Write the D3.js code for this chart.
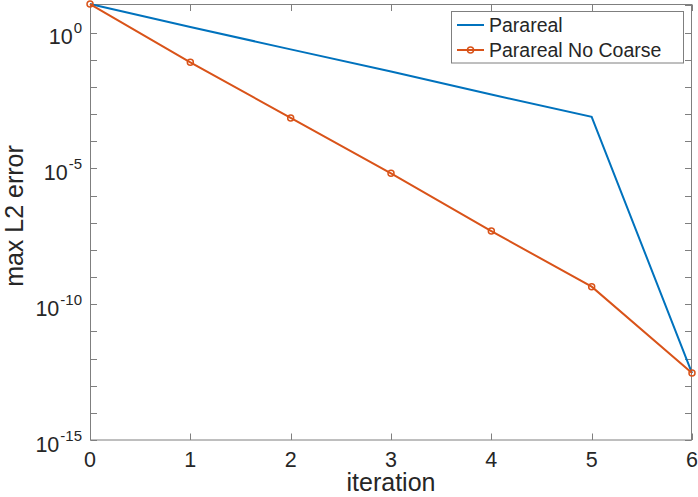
<!DOCTYPE html>
<html>
<head>
<meta charset="utf-8">
<script src="https://cdn.jsdelivr.net/npm/d3@7"></script>
<style>
  body { margin: 0; background: #fff; }
  svg text { font-family: "Liberation Sans", Arial, Helvetica, sans-serif; fill: #262626; }
</style>
</head>
<body>
<svg id="chart" width="698" height="497"></svg>
<script>
// data
var iterations = [0, 1, 2, 3, 4, 5, 6];
var parareal = [11.2, 1.6, 0.24, 0.037, 0.0052, 0.00079, 2.9e-13];
var pararealNoCoarse = [11.2, 0.08, 0.00072, 6.6e-6, 4.9e-8, 4.4e-10, 2.9e-13];
var seriesNames = ['Parareal', 'Parareal No Coarse'];
var yTickValues = d3.range(-15, 2).map(function(e) { return Math.pow(10, e); });
var yLabelExps = [0, -5, -10, -15];

var colors = ['#0072BD', '#D95319'];

var svg = d3.select('svg#chart');

var x = d3.scaleLinear().domain([0, 6]).range([90, 692]);
var y = d3.scaleLog().domain([1e-15, Math.pow(10, 1.05)]).range([440, 4]);

var axisColor = '#7f7f7f';

// box
svg.append('rect')
	.attr('x', 90.5).attr('y', 4.5)
	.attr('width', 601).attr('height', 435.5)
	.attr('fill', 'none')
	.attr('stroke', axisColor)
	.attr('stroke-width', 1);

// ticks, all inward
var tickLen = 6.5;
var ticks = svg.append('g').attr('stroke', axisColor).attr('stroke-width', 1);

iterations.forEach(function(i) {
	var px = Math.round(x(i)) + 0.5;
	ticks.append('line').attr('x1', px).attr('x2', px).attr('y1', 440).attr('y2', 440 - tickLen);
	ticks.append('line').attr('x1', px).attr('x2', px).attr('y1', 4.5).attr('y2', 4.5 + tickLen);
});

yTickValues.forEach(function(v) {
	var py = Math.round(y(v)) + 0.5;
	if (py < 4) return;
	ticks.append('line').attr('x1', 90.5).attr('x2', 90.5 + tickLen).attr('y1', py).attr('y2', py);
	ticks.append('line').attr('x1', 691.5).attr('x2', 691.5 - tickLen).attr('y1', py).attr('y2', py);
});

// x tick labels
svg.append('g').selectAll('text')
	.data(iterations)
	.enter()
		.append('text')
		.attr('x', function(d) { return x(d); })
		.attr('y', 467)
		.attr('text-anchor', 'middle')
		.attr('font-size', 21.5)
		.text(function(d) { return d; });

// y tick labels with superscripts
var yl = svg.append('g').selectAll('text')
	.data(yLabelExps)
	.enter()
		.append('text')
		.attr('x', 82)
		.attr('y', function(d) { return y(Math.pow(10, d)) + 11.5; })
		.attr('text-anchor', 'end');

yl.append('tspan').attr('font-size', 21.5).text('10');
yl.append('tspan').attr('font-size', 15).attr('dy', -11).attr('dx', 1).text(function(d) { return d === 0 ? '0' : '-' + (-d); });

// axis labels
svg.append('text')
	.attr('x', 391).attr('y', 491)
	.attr('text-anchor', 'middle')
	.attr('font-size', 25)
	.text('iteration');

svg.append('text')
	.attr('transform', 'translate(23,216) rotate(-90)')
	.attr('text-anchor', 'middle')
	.attr('font-size', 25)
	.text('max L2 error');

// lines
var line = d3.line()
	.x(function(d, i) { return x(iterations[i]); })
	.y(function(d) { return y(d); });

var plot = svg.append('g');

plot.append('path')
	.datum(parareal)
	.attr('d', line)
	.attr('fill', 'none')
	.attr('stroke', colors[0])
	.attr('stroke-width', 2);

plot.append('path')
	.datum(pararealNoCoarse)
	.attr('d', line)
	.attr('fill', 'none')
	.attr('stroke', colors[1])
	.attr('stroke-width', 2);

plot.selectAll('.marker')
	.data(pararealNoCoarse)
	.enter()
		.append('circle')
		.classed('marker', true)
		.attr('cx', function(d, i) { return x(iterations[i]); })
		.attr('cy', function(d) { return y(d); })
		.attr('r', 3)
		.attr('fill', 'none')
		.attr('stroke', colors[1])
		.attr('stroke-width', 1.5);

// legend
var legend = svg.append('g');

legend.append('rect')
	.attr('x', 451.5).attr('y', 11.5)
	.attr('width', 232).attr('height', 51.5)
	.attr('fill', '#fff')
	.attr('stroke', axisColor)
	.attr('stroke-width', 1);

var rows = legend.selectAll('.row')
	.data(seriesNames)
	.enter()
		.append('g')
		.classed('row', true)
		.attr('transform', function(d, i) { return 'translate(0,' + (25 + i * 25) + ')'; });

rows.append('line')
	.attr('x1', 457).attr('x2', 484)
	.attr('stroke', function(d, i) { return colors[i]; })
	.attr('stroke-width', 2);

rows.filter(function(d, i) { return i === 1; })
	.append('circle')
	.attr('cx', 470.5).attr('cy', 0).attr('r', 3)
	.attr('fill', 'none')
	.attr('stroke', colors[1])
	.attr('stroke-width', 1.5);

rows.append('text')
	.attr('x', 489).attr('y', 7)
	.attr('font-size', 19.5)
	.text(function(d) { return d; });
</script>
</body>
</html>
